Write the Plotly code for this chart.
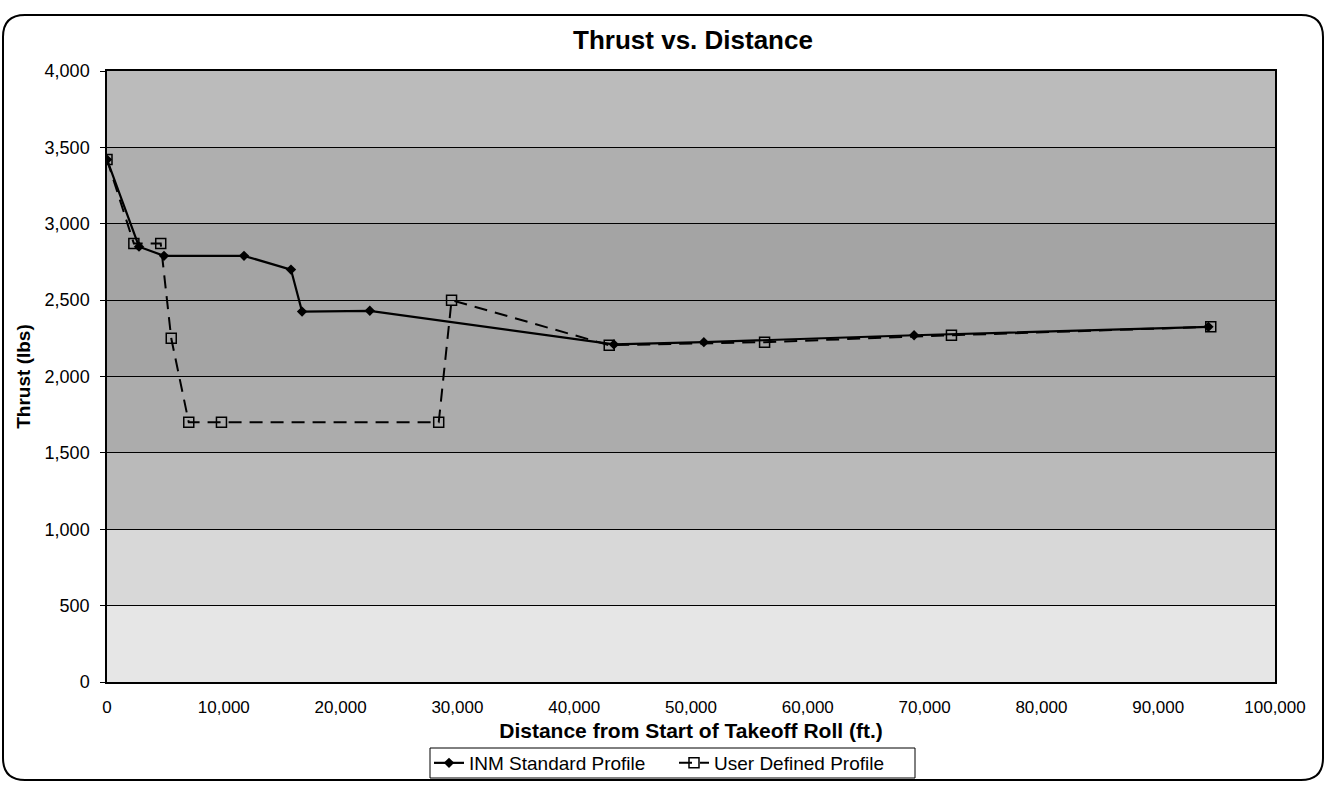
import plotly.graph_objects as go

# Thrust profiles (distance in ft, thrust in lbs)
inm_distance = [0, 2740, 4880, 11730, 15750, 16700, 22500, 43400, 51100, 69100, 94300]
inm_thrust = [3420, 2850, 2790, 2790, 2700, 2425, 2430, 2210, 2225, 2270, 2325]

user_distance = [0, 2300, 4600, 5500, 7000, 9800, 28400, 29500, 43000, 56300, 72300, 94500]
user_thrust = [3420, 2870, 2870, 2250, 1700, 1700, 1700, 2500, 2205, 2225, 2270, 2325]

x_ticks = list(range(0, 100001, 10000))
y_ticks = list(range(0, 4001, 500))

# Shading of the plot area, per gridline band (lower, upper, colour)
band_lower = [0, 500, 1000, 1500, 2000, 3000, 3500]
band_upper = [500, 1000, 1500, 2000, 3000, 3500, 4000]
band_color = ["#e6e6e6", "#d8d8d8", "#bababa", "#acacac", "#a4a4a4", "#afafaf", "#bbbbbb"]

FONT = "Liberation Sans, Arial, sans-serif"
W, H = 1330, 789
ML, MR, MT, MB = 107, 55, 71, 107
PW, PH = W - ML - MR, H - MT - MB


def px(x):
    return (x - ML) / PW


def py(y):
    return (H - MB - y) / PH


fig = go.Figure()

fig.add_trace(go.Scatter(
    x=inm_distance, y=inm_thrust, name="INM Standard Profile",
    mode="lines+markers",
    line=dict(color="black", width=2.2),
    marker=dict(symbol="diamond", size=8, color="black"),
))
fig.add_trace(go.Scatter(
    x=user_distance, y=user_thrust, name="User Defined Profile",
    mode="lines+markers",
    line=dict(color="black", width=2, dash="13px,8px"),
    marker=dict(symbol="square-open", size=10, color="black", line=dict(width=1.5)),
))

shapes = []
for lo, hi, c in zip(band_lower, band_upper, band_color):
    shapes.append(dict(type="rect", xref="x domain", yref="y", x0=0, x1=1, y0=lo, y1=hi,
                       fillcolor=c, line=dict(width=0), layer="below"))

# Rounded outer chart frame
L, R, T, B, r = 3, 1323, 15, 780, 22
path = (f"M {px(L + r)},{py(T)} L {px(R - r)},{py(T)} Q {px(R)},{py(T)} {px(R)},{py(T + r)} "
        f"L {px(R)},{py(B - r)} Q {px(R)},{py(B)} {px(R - r)},{py(B)} "
        f"L {px(L + r)},{py(B)} Q {px(L)},{py(B)} {px(L)},{py(B - r)} "
        f"L {px(L)},{py(T + r)} Q {px(L)},{py(T)} {px(L + r)},{py(T)} Z")
shapes.append(dict(type="path", xref="paper", yref="paper", path=path,
                   line=dict(color="black", width=2)))

# Legend frame
shapes.append(dict(type="rect", xref="paper", yref="paper",
                   x0=px(430), x1=px(915), y0=py(778), y1=py(748),
                   fillcolor="white", line=dict(color="black", width=1)))

fig.update_layout(
    width=W, height=H,
    margin=dict(l=ML, r=MR, t=MT, b=MB, autoexpand=False),
    paper_bgcolor="white",
    plot_bgcolor="#b0b0b0",
    font=dict(family=FONT, size=17, color="black"),
    title=dict(text="<b>Thrust vs. Distance</b>", xref="container", x=693 / W,
               xanchor="center", y=1 - 40 / H, yanchor="middle",
               font=dict(size=26, family=FONT)),
    shapes=shapes,
    showlegend=True,
    legend=dict(orientation="h", x=px(674), xanchor="center", y=py(763), yanchor="middle",
                borderwidth=0, bgcolor="rgba(0,0,0,0)",
                font=dict(size=19, family=FONT), itemwidth=30,
                entrywidth=200, entrywidthmode="pixels",
                tracegroupgap=0),
    xaxis=dict(
        range=[0, 100000], tickvals=x_ticks, tickformat=",d",
        showgrid=False, zeroline=False, automargin=False,
        showline=True, linecolor="black", linewidth=1.5, mirror=True,
        ticks="", tickfont=dict(size=17), ticklabelstandoff=9,
        title=dict(text="<b>Distance from Start of Takeoff Roll (ft.)</b>",
                   font=dict(size=21), standoff=7),
    ),
    yaxis=dict(
        range=[0, 4000], tickvals=y_ticks, tickformat=",d",
        showgrid=True, gridcolor="black", gridwidth=1, zeroline=False, automargin=False,
        showline=True, linecolor="black", linewidth=1.5, mirror=True,
        ticks="outside", ticklen=5, tickcolor="black", tickfont=dict(size=18),
        ticklabelstandoff=7,
        title=dict(text="<b>Thrust (lbs)</b>", font=dict(size=19), standoff=9),
    ),
)

fig.write_html("out.html")
